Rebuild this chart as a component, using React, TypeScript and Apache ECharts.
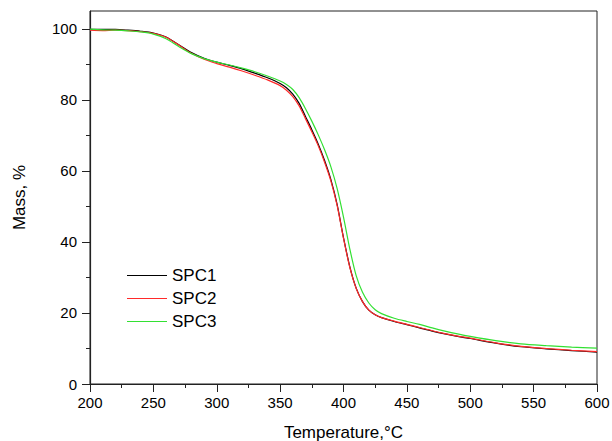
import * as echarts from "echarts";
import { useEffect, useRef } from "react";

const temps = [
  200, 210, 220, 230, 240, 250, 260, 270, 280, 290, 300, 310, 320, 330, 340, 350,
  355, 360, 365, 370, 375, 380, 385, 390, 395, 400, 405, 410, 415, 420, 425, 430,
  440, 450, 460, 470, 480, 490, 500, 520, 540, 560, 580, 600,
];

const spc1 = [
  99.8, 99.8, 99.8, 99.6, 99.3, 98.8, 97.7, 95.5, 93.3, 91.7, 90.6, 89.7, 88.7, 87.5, 86.2, 84.6,
  83.4, 81.6, 79.0, 75.3, 71.6, 67.6, 63.0, 57.6, 50.5, 41.2, 33.0, 27.0, 23.2, 20.8, 19.5, 18.7,
  17.6, 16.7, 15.8, 14.9, 14.1, 13.4, 12.8, 11.5, 10.5, 9.9, 9.4, 9.0,
];

const spc2 = [
  99.6, 99.5, 99.6, 99.5, 99.2, 98.7, 97.6, 95.4, 93.1, 91.4, 90.2, 89.2, 88.1, 86.9, 85.6, 84.0,
  82.7, 80.9, 78.3, 74.7, 71.0, 67.1, 62.5, 57.2, 50.2, 41.0, 32.8, 26.9, 23.2, 20.8, 19.5, 18.7,
  17.7, 16.8, 15.9, 15.0, 14.2, 13.5, 12.9, 11.6, 10.6, 10.0, 9.5, 9.1,
];

const spc3 = [
  99.9, 99.7, 99.6, 99.4, 99.1, 98.5, 97.2, 95.0, 93.0, 91.6, 90.6, 89.8, 88.9, 87.9, 86.7, 85.3,
  84.3, 82.9, 80.6, 77.5, 74.0, 70.2, 66.0, 61.2, 55.0, 47.0, 38.0, 30.5, 25.8, 22.8, 20.9, 19.8,
  18.5, 17.6, 16.8, 15.8, 14.9, 14.1, 13.4, 12.2, 11.3, 10.8, 10.4, 10.1,
];

const seriesNames = ["SPC1", "SPC2", "SPC3"];
const seriesColors = ["#000000", "#ff2a2a", "#33e033"];
const yMajorTicks = [0, 20, 40, 60, 80, 100];
const yMinorTicks = [10, 30, 50, 70, 90];

const FONT = "Liberation Sans, Arial, sans-serif";
const AXIS_COLOR = "#222";

export default function App() {
  const chartRef = useRef<HTMLDivElement>(null);

  useEffect(() => {
    const chart = echarts.init(chartRef.current!, null, { renderer: "svg" });
    const values = [spc1, spc2, spc3];

    chart.setOption({
      animation: false,
      backgroundColor: "#fff",
      textStyle: { fontFamily: FONT },
      grid: {
        left: 90,
        right: 15,
        top: 11,
        bottom: 57,
        outerBoundsMode: "none",
        containLabel: false,
        show: true,
        borderColor: AXIS_COLOR,
        borderWidth: 1,
      },
      legend: {
        orient: "vertical",
        left: 122,
        top: 262,
        itemWidth: 40,
        itemHeight: 1.2,
        itemGap: 6,
        icon: "rect",
        textStyle: { fontFamily: FONT, fontSize: 17, color: "#000" },
        data: seriesNames,
      },
      xAxis: {
        type: "value",
        min: 200,
        max: 600,
        interval: 50,
        name: "Temperature,°C",
        nameLocation: "middle",
        nameGap: 40,
        nameTextStyle: { fontFamily: FONT, fontSize: 17, color: "#000" },
        axisLine: { lineStyle: { color: AXIS_COLOR, width: 1.2 } },
        axisTick: { length: 8, lineStyle: { color: AXIS_COLOR } },
        minorTick: { show: true, splitNumber: 2, length: 4, lineStyle: { color: AXIS_COLOR } },
        axisLabel: { fontFamily: FONT, fontSize: 15, color: "#000", margin: 11 },
        splitLine: { show: false },
      },
      yAxis: [
        {
          type: "value",
          min: 0,
          max: 105,
          name: "Mass, %",
          nameLocation: "middle",
          nameGap: 62,
          nameTextStyle: { fontFamily: FONT, fontSize: 17, color: "#000" },
          axisLine: { show: true, lineStyle: { color: AXIS_COLOR, width: 1.2 } },
          axisTick: { show: true, length: 8, customValues: yMajorTicks, lineStyle: { color: AXIS_COLOR } },
          axisLabel: { fontFamily: FONT, fontSize: 15, color: "#000", margin: 13, customValues: yMajorTicks },
          splitLine: { show: false },
        },
        {
          type: "value",
          min: 0,
          max: 105,
          position: "left",
          axisLine: { show: false },
          axisTick: { show: true, length: 4, customValues: yMinorTicks, lineStyle: { color: AXIS_COLOR } },
          axisLabel: { show: false },
          splitLine: { show: false },
        },
      ],
      series: seriesNames.map((name, i) => ({
        name,
        type: "line",
        yAxisIndex: 0,
        data: temps.map((t, j) => [t, values[i][j]]),
        showSymbol: false,
        smooth: 0.3,
        lineStyle: { color: seriesColors[i], width: 1.2 },
        itemStyle: { color: seriesColors[i] },
      })),
    });

    return () => chart.dispose();
  }, []);

  return (
    <div
      ref={chartRef}
      style={{ position: "absolute", left: 0, top: 0, width: 612, height: 441 }}
    />
  );
}
